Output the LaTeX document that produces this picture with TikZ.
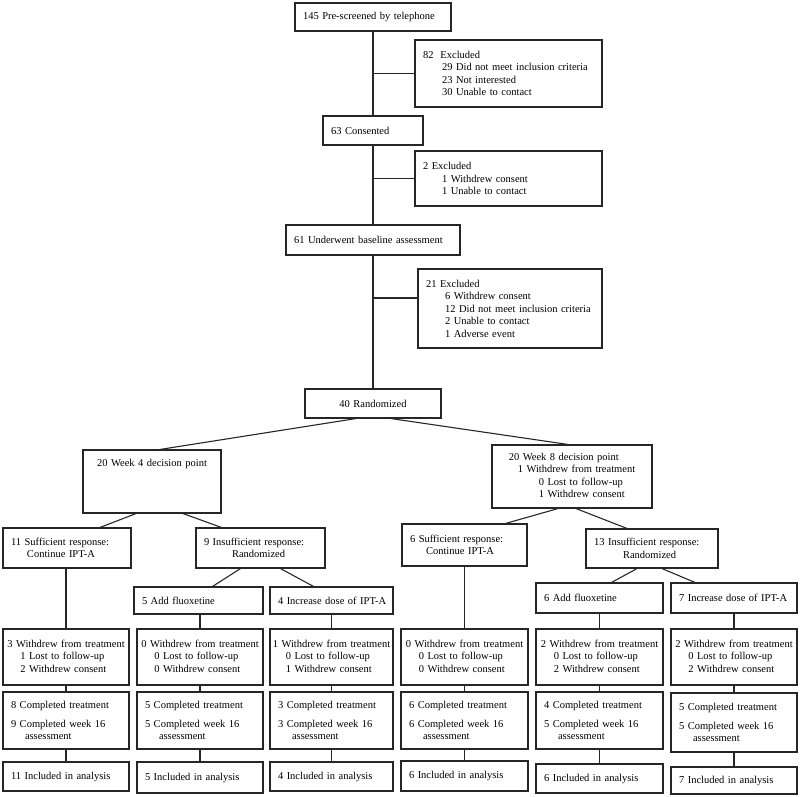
\documentclass[tikz,border=0pt]{standalone}
\usepackage{fontspec}
\setmainfont{Liberation Serif}
\usetikzlibrary{calc}
\newcommand{\flowbox}[7][]{
	\pgfmathsetmacro{\bw}{#5-#3}
	\pgfmathsetmacro{\bh}{#6-#4}
	\pgfmathsetmacro{\tw}{#5-#3-16}
	\node[box, minimum width=\bw pt, minimum height=\bh pt, text width=\tw pt, #1] (#2) at ({(#3+#5)/2},{(#4+#6)/2}) {#7};
}
\newcommand{\losses}[3]{\hbox to\hsize{\hss\begin{tabular}{@{}l@{}}#1 Withdrew from treatment\\\hspace*{13pt}#2 Lost to follow-up\\\hspace*{13pt}#3 Withdrew consent\end{tabular}\hss}}
\newcommand{\completed}[2]{#1 Completed treatment\\[6pt]#2 Completed week 16\\\hspace*{14pt}assessment}

\begin{document}
\begin{tikzpicture}[x=1pt,y=-1pt,
	box/.style={draw=black!85, line width=1.1pt, inner xsep=8pt, inner ysep=0pt, align=left, font=\fontsize{10.5}{12.5}\selectfont},
	link/.style={draw=black!85, line width=1.1pt}]
	\useasboundingbox (0,0) rectangle (800,796);

	% screening spine
	\flowbox{pre}{295}{3}{451}{31}{145 Pre-screened by telephone}
	\flowbox{ex1}{415}{40}{602}{107}{82~~Excluded\\\hspace*{19pt}29 Did not meet inclusion criteria\\\hspace*{19pt}23 Not interested\\\hspace*{19pt}30 Unable to contact}
	\flowbox{cons}{323}{116}{423}{145}{63 Consented}
	\flowbox{ex2}{415}{151}{602}{206}{2 Excluded\\\hspace*{19pt}1 Withdrew consent\\\hspace*{19pt}1 Unable to contact}
	\flowbox{base}{286}{225}{460}{255}{61 Underwent baseline assessment}
	\flowbox{ex3}{418}{269}{602}{348}{21 Excluded\\\hspace*{19pt}6 Withdrew consent\\\hspace*{19pt}12 Did not meet inclusion criteria\\\hspace*{19pt}2 Unable to contact\\\hspace*{19pt}1 Adverse event}
	\flowbox[align=center]{rand}{305}{389}{441}{418}{40 Randomized}

	% decision points
	\flowbox[align=center]{wk4}{83}{450}{221}{513}{20 Week 4 decision point\\\mbox{}\\\mbox{}\\\mbox{}}
	\flowbox[align=center]{wk8}{492}{445}{652}{508}{\begin{tabular}{@{}l@{}}20 Week 8 decision point\\\hspace*{9pt}1 Withdrew from treatment\\\hspace*{30pt}0 Lost to follow-up\\\hspace*{30pt}1 Withdrew consent\end{tabular}}
	\flowbox{suf4}{3}{528}{131}{568}{11 Sufficient response:\\\hspace*{16pt}Continue IPT-A}
	\flowbox{ins4}{196}{528}{325}{568}{9 Insufficient response:\\\hspace*{28pt}Randomized}
	\flowbox{suf8}{402}{524}{527}{566}{6 Sufficient response:\\\hspace*{16pt}Continue IPT-A}
	\flowbox{ins8}{586}{529}{718}{568}{13 Insufficient response:\\\hspace*{29pt}Randomized}
	\flowbox{flu4}{134}{587}{263}{614}{5 Add fluoxetine}
	\flowbox{inc4}{270}{587}{393}{614}{\mbox{4 Increase dose of IPT-A}}
	\flowbox{flu8}{536}{583}{663}{613}{6 Add fluoxetine}
	\flowbox{inc8}{671}{583}{797}{613}{\mbox{7 Increase dose of IPT-A}}

	% withdrawals
	\flowbox{wd1}{3}{629}{129}{685}{\losses{3}{1}{2}}
	\flowbox{wd2}{137}{629}{263}{685}{\losses{0}{0}{0}}
	\flowbox{wd3}{270}{629}{393}{685}{\losses{1}{0}{1}}
	\flowbox{wd4}{401}{629}{528}{685}{\losses{0}{0}{0}}
	\flowbox{wd5}{536}{629}{663}{685}{\losses{2}{0}{2}}
	\flowbox{wd6}{671}{629}{797}{685}{\losses{2}{0}{2}}

	% completers
	\flowbox{cp1}{3}{692}{129}{749}{\completed{8}{9}}
	\flowbox{cp2}{137}{692}{263}{749}{\completed{5}{5}}
	\flowbox{cp3}{270}{692}{393}{749}{\completed{3}{3}}
	\flowbox{cp4}{401}{692}{528}{749}{\completed{6}{6}}
	\flowbox{cp5}{536}{692}{663}{749}{\completed{4}{5}}
	\flowbox{cp6}{671}{693}{797}{752}{\completed{5}{5}}

	% analysed
	\flowbox{an1}{3}{762}{129}{791}{11 Included in analysis}
	\flowbox{an2}{137}{762}{263}{793}{5 Included in analysis}
	\flowbox{an3}{270}{762}{393}{791}{4 Included in analysis}
	\flowbox{an4}{401}{761}{528}{791}{6 Included in analysis}
	\flowbox{an5}{536}{764}{663}{793}{6 Included in analysis}
	\flowbox{an6}{671}{767}{797}{794}{7 Included in analysis}

	\draw[link] (pre) -- (cons) -- (base) -- (rand);
	\draw[link] (ex1.west) -- (ex1.west -| pre.south);
	\draw[link] (ex2.west) -- (ex2.west -| pre.south);
	\coordinate (ex3in) at ([yshift=10.5pt]ex3.west);
	\draw[link] (ex3in) -- (ex3in -| pre.south);

	\draw[link] ([xshift=-17pt]rand.south) -- ([xshift=8pt]wk4.north);
	\draw[link] ([xshift=18pt]rand.south) -- ([xshift=-4pt]wk8.north);
	\draw[link] ([xshift=-16pt]wk4.south) -- ([xshift=33pt]suf4.north);
	\draw[link] ([xshift=31pt]wk4.south) -- ([xshift=-39pt]ins4.north);
	\draw[link] ([xshift=-14pt]wk8.south) -- ([xshift=41pt]suf8.north);
	\draw[link] ([xshift=4pt]wk8.south) -- ([xshift=-25pt]ins8.north);
	\draw[link] ([xshift=-20pt]ins4.south) -- ([xshift=14pt]flu4.north);
	\draw[link] ([xshift=20pt]ins4.south) -- ([xshift=-18pt]inc4.north);
	\draw[link] ([xshift=-15pt]ins8.south) -- ([xshift=12pt]flu8.north);
	\draw[link] ([xshift=10pt]ins8.south) -- ([xshift=-39pt]inc8.north);

	\foreach \c/\t in {1/suf4, 2/flu4, 3/inc4, 4/suf8, 5/flu8, 6/inc8}
		\draw[link] (wd\c.north |- \t.south) -- (wd\c.north) (wd\c) -- (cp\c) (cp\c) -- (an\c);
\end{tikzpicture}
\end{document}
